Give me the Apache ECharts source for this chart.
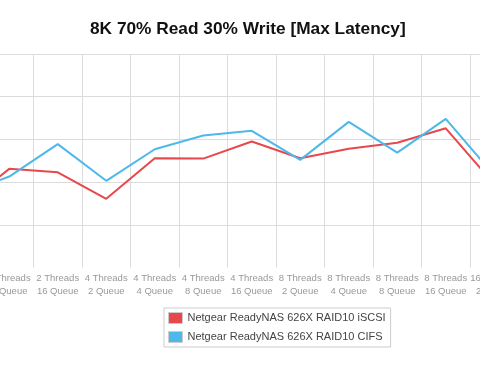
<!DOCTYPE html>
<html>
<head>
<meta charset="utf-8">
<script src="https://cdn.jsdelivr.net/npm/echarts@6/dist/echarts.min.js"></script>
<style>html,body{margin:0;padding:0;background:#fff}#c{width:480px;height:372px}</style>
</head>
<body>
<div id="c"></div>
<script>
var categories = ['2 Threads\n4 Queue','2 Threads\n8 Queue','2 Threads\n16 Queue','4 Threads\n2 Queue','4 Threads\n4 Queue','4 Threads\n8 Queue','4 Threads\n16 Queue','8 Threads\n2 Queue','8 Threads\n4 Queue','8 Threads\n8 Queue','8 Threads\n16 Queue','16 Threads\n2 Queue'];
var seriesNames = ['Netgear ReadyNAS 626X RAID10 iSCSI','Netgear ReadyNAS 626X RAID10 CIFS'];
var iscsiValues = [1.41, 2.31, 2.23, 1.61, 2.56, 2.55, 2.95, 2.56, 2.78, 2.92, 3.26, 1.95];
var cifsValues  = [1.70, 2.13, 2.89, 2.03, 2.77, 3.09, 3.20, 2.52, 3.41, 2.69, 3.48, 2.16];
var yMin = 0, yMax = 5, yInterval = 1;

var chart = echarts.init(document.getElementById('c'), null, {renderer:'canvas'});
chart.setOption({
  animation:false,
  backgroundColor:'#fff',
  title:{
    text:'8K 70% Read 30% Write [Max Latency]',
    left:90, top:21, padding:0,
    textStyle:{fontFamily:'Liberation Sans',fontSize:17.3,fontWeight:'bold',color:'#111'}
  },
  legend:{
    orient:'vertical', left:164, top:308,
    padding:[4,5,4,4],
    borderColor:'#ccc', borderWidth:1,
    itemWidth:14, itemHeight:11, itemGap:7,
    icon:'rect',
    itemStyle:{borderColor:'#ccc',borderWidth:1},
    textStyle:{fontFamily:'Liberation Sans',fontSize:11,color:'#444',lineHeight:11},
    data:seriesNames
  },
  grid:{left:-63.5, right:-38.5, top:54, bottom:104.5, outerBoundsMode:'none', containLabel:false},
  xAxis:{
    type:'category', data:categories, boundaryGap:true,
    axisLine:{show:false}, axisTick:{show:false},
    splitLine:{show:true, interval:0, lineStyle:{color:'#dcdcdc',width:1}},
    axisLabel:{interval:0, margin:4, color:'#999', fontFamily:'Liberation Sans', fontSize:9.5, lineHeight:13}
  },
  yAxis:{
    type:'value', min:yMin, max:yMax, interval:yInterval,
    axisLine:{show:false}, axisTick:{show:false}, axisLabel:{show:false},
    splitLine:{show:true, lineStyle:{color:['rgba(0,0,0,0)','#dcdcdc','#dcdcdc','#dcdcdc','#dcdcdc','#dcdcdc'],width:1}}
  },
  series:[
    {name:seriesNames[0], type:'line', data:iscsiValues, showSymbol:false, symbol:'none',
     itemStyle:{color:'#e8474c'}, lineStyle:{color:'#e8474c',width:2}},
    {name:seriesNames[1], type:'line', data:cifsValues, showSymbol:false, symbol:'none',
     itemStyle:{color:'#4cb9ea'}, lineStyle:{color:'#4cb9ea',width:2}}
  ]
});
</script>
</body>
</html>
